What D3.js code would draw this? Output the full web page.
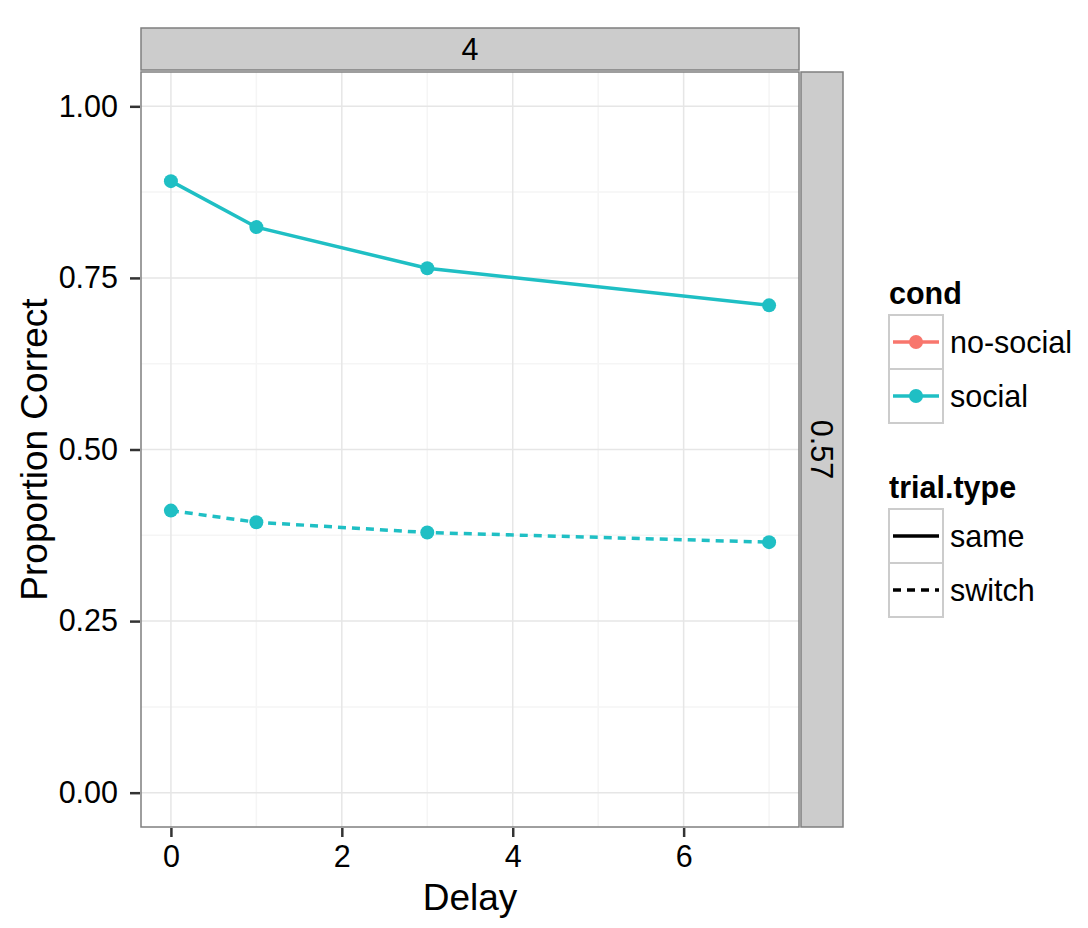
<!doctype html>
<html>
<head>
  <meta charset="utf-8">
  <script src="https://d3js.org/d3.v7.min.js"></script>
</head>
<style>
  body {
    margin: 0;
    background: white;
  }

  svg text {
    font-family: "Liberation Sans", Arial, sans-serif;
    fill: black;
  }
</style>
<body>
<svg></svg>

<script>
  // values
  const delays = [0, 1, 3, 7];
  const socialSame = [0.891, 0.824, 0.764, 0.710];
  const socialSwitch = [0.411, 0.394, 0.379, 0.365];
  const condLevels = ["no-social", "social"];
  const condColors = ["#F8766D", "#1FBFC4"];
  const trialTypes = ["same", "switch"];
  const xTicks = [0, 2, 4, 6];
  const xMinor = [1, 3, 5, 7];
  const yTicks = [0, 0.25, 0.5, 0.75, 1];
  const yMinor = [0.125, 0.375, 0.625, 0.875];
  const stripTop = "4", stripRight = "0.57";

  const width = 1088, height = 928;
  const panel = {left: 141, right: 799, top: 72, bottom: 827};
  const tickFont = 30.5, titleFont = 37;
  const lineWidth = 3.5, pointR = 7;
  const dashPattern = "8,6";

  const svg = d3.select("svg")
    .attr("width", width)
    .attr("height", height);

  const xScale = d3.scaleLinear()
    .domain([-0.35, 7.35])
    .range([panel.left, panel.right]);
  const yScale = d3.scaleLinear()
    .domain([-0.05, 1.05])
    .range([panel.bottom, panel.top]);

  // panel background + grid
  svg.append("rect")
    .attr("x", panel.left).attr("y", panel.top)
    .attr("width", panel.right - panel.left).attr("height", panel.bottom - panel.top)
    .attr("fill", "white");

  const grid = svg.append("g");
  grid.selectAll(".xminor").data(xMinor).enter().append("line")
    .attr("x1", d => xScale(d)).attr("x2", d => xScale(d))
    .attr("y1", panel.top).attr("y2", panel.bottom)
    .attr("stroke", "#f5f5f5").attr("stroke-width", 1.5);
  grid.selectAll(".yminor").data(yMinor).enter().append("line")
    .attr("y1", d => yScale(d)).attr("y2", d => yScale(d))
    .attr("x1", panel.left).attr("x2", panel.right)
    .attr("stroke", "#f5f5f5").attr("stroke-width", 1.5);
  grid.selectAll(".xmajor").data(xTicks).enter().append("line")
    .attr("x1", d => xScale(d)).attr("x2", d => xScale(d))
    .attr("y1", panel.top).attr("y2", panel.bottom)
    .attr("stroke", "#e6e6e6").attr("stroke-width", 1.5);
  grid.selectAll(".ymajor").data(yTicks).enter().append("line")
    .attr("y1", d => yScale(d)).attr("y2", d => yScale(d))
    .attr("x1", panel.left).attr("x2", panel.right)
    .attr("stroke", "#e6e6e6").attr("stroke-width", 1.5);

  // series
  const series = [
    {cond: 1, type: 0, values: socialSame},
    {cond: 1, type: 1, values: socialSwitch}
  ];
  const line = d3.line()
    .x((d, i) => xScale(delays[i]))
    .y(d => yScale(d));

  series.forEach(function (s) {
    svg.append("path")
      .attr("d", line(s.values))
      .attr("fill", "none")
      .attr("stroke", condColors[s.cond])
      .attr("stroke-width", lineWidth)
      .attr("stroke-dasharray", s.type == 1 ? dashPattern : null);
  });
  series.forEach(function (s) {
    svg.append("g").selectAll("circle").data(s.values).enter().append("circle")
      .attr("cx", (d, i) => xScale(delays[i]))
      .attr("cy", d => yScale(d))
      .attr("r", pointR)
      .attr("fill", condColors[s.cond]);
  });

  // panel border
  svg.append("rect")
    .attr("x", panel.left).attr("y", panel.top)
    .attr("width", panel.right - panel.left).attr("height", panel.bottom - panel.top)
    .attr("fill", "none").attr("stroke", "#7f7f7f").attr("stroke-width", 1.5);

  // strips
  svg.append("rect")
    .attr("x", panel.left).attr("y", 28)
    .attr("width", panel.right - panel.left).attr("height", 42)
    .attr("fill", "#cccccc").attr("stroke", "#7f7f7f").attr("stroke-width", 1.5);
  svg.append("text")
    .attr("x", (panel.left + panel.right) / 2).attr("y", 49)
    .attr("dy", "0.36em")
    .attr("text-anchor", "middle")
    .style("font-size", tickFont + "px")
    .text(stripTop);

  svg.append("rect")
    .attr("x", 801).attr("y", panel.top)
    .attr("width", 42).attr("height", panel.bottom - panel.top)
    .attr("fill", "#cccccc").attr("stroke", "#7f7f7f").attr("stroke-width", 1.5);
  svg.append("text")
    .attr("transform", `translate(822, ${(panel.top + panel.bottom) / 2}) rotate(90)`)
    .attr("dy", "0.36em")
    .attr("text-anchor", "middle")
    .style("font-size", tickFont + "px")
    .text(stripRight);

  // axes
  const yAxis = d3.axisLeft(yScale)
    .tickValues(yTicks)
    .tickFormat(d3.format(".2f"))
    .tickSize(10)
    .tickPadding(12);
  const gy = svg.append("g")
    .attr("transform", `translate(${panel.left - 1}, 0)`)
    .call(yAxis);

  const xAxis = d3.axisBottom(xScale)
    .tickValues(xTicks)
    .tickFormat(d3.format("d"))
    .tickSize(9)
    .tickPadding(8);
  const gx = svg.append("g")
    .attr("transform", `translate(0, ${panel.bottom + 1})`)
    .call(xAxis);

  [gx, gy].forEach(function (g) {
    g.select(".domain").remove();
    g.selectAll(".tick line").attr("stroke", "#333").attr("stroke-width", 2.5);
    g.selectAll(".tick text")
      .attr("fill", "black")
      .style("font-family", '"Liberation Sans", Arial, sans-serif')
      .style("font-size", tickFont + "px");
  });

  // axis titles
  svg.append("text")
    .attr("x", (panel.left + panel.right) / 2).attr("y", 910)
    .attr("text-anchor", "middle")
    .style("font-size", titleFont + "px")
    .text("Delay");
  svg.append("text")
    .attr("transform", `translate(47, ${(panel.top + panel.bottom) / 2}) rotate(-90)`)
    .attr("text-anchor", "middle")
    .style("font-size", titleFont + "px")
    .text("Proportion Correct");

  // legends
  const keyX = 889, keySize = 54;

  function legend(title, titleY, firstKeyY, labels, drawKey) {
    svg.append("text")
      .attr("x", keyX).attr("y", titleY)
      .attr("dy", "0.36em")
      .style("font-size", tickFont + "px")
      .style("font-weight", "bold")
      .text(title);
    labels.forEach(function (lab, i) {
      const y0 = firstKeyY + i * keySize;
      svg.append("rect")
        .attr("x", keyX).attr("y", y0)
        .attr("width", keySize).attr("height", keySize)
        .attr("fill", "white").attr("stroke", "#cccccc").attr("stroke-width", 2);
      drawKey(i, y0 + keySize / 2);
      svg.append("text")
        .attr("x", keyX + keySize + 7).attr("y", y0 + keySize / 2)
        .attr("dy", "0.36em")
        .style("font-size", tickFont + "px")
        .text(lab);
    });
  }

  legend("cond", 293, 315, condLevels, function (i, cy) {
    svg.append("line")
      .attr("x1", keyX + 4).attr("x2", keyX + keySize - 4)
      .attr("y1", cy).attr("y2", cy)
      .attr("stroke", condColors[i]).attr("stroke-width", lineWidth);
    svg.append("circle")
      .attr("cx", keyX + keySize / 2).attr("cy", cy)
      .attr("r", pointR).attr("fill", condColors[i]);
  });

  legend("trial.type", 487, 509, trialTypes, function (i, cy) {
    svg.append("line")
      .attr("x1", keyX + 4).attr("x2", keyX + keySize - 4)
      .attr("y1", cy).attr("y2", cy)
      .attr("stroke", "black").attr("stroke-width", lineWidth)
      .attr("stroke-dasharray", i == 1 ? dashPattern : null);
  });
</script>
</body>
</html>
